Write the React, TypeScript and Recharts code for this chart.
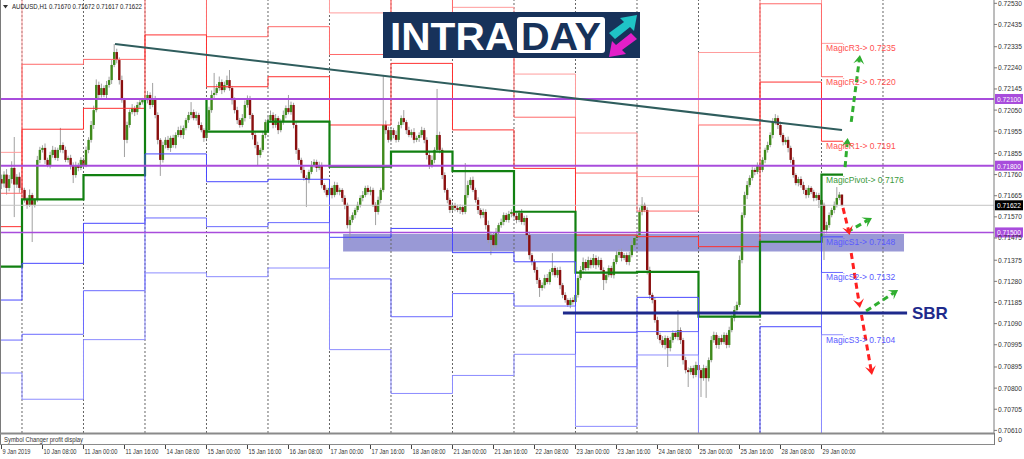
import React from "react";
import { ComposedChart, Bar, Line, XAxis, YAxis, ReferenceLine, ReferenceArea, ReferenceDot } from "recharts";

// H1 bars, index 0 = 10 Jan 00:00, 24 bars per trading day. prices in 1e-5
const firstBar = -8;
const firstOpen = 71740;
const closes = [
  71720, 71760, 71700, 71740, 71790, 71715, 71750, 71700,
  71691, 71646, 71624, 71668, 71624, 71646, 71826, 71871, 71880, 71826, 71803, 71848, 71871, 71835, 71871, 71893, 71871, 71826, 71835, 71803, 71758, 71803, 71790, 71826,
  71803, 71871, 71916, 71983, 72050, 72163, 72118, 72149, 72118, 72163, 72185, 72253, 72311, 72275, 72185, 72095, 71916, 71983, 72041, 72059, 72041, 72073, 72085, 72095,
  72095, 72118, 72073, 72104, 72028, 71916, 71826, 71893, 71916, 71880, 71925, 71893, 71938, 71960, 71938, 71969, 72005, 72028, 72041, 72014, 72028, 71983, 71960, 71925,
  71960, 72050, 72118, 72127, 72149, 72176, 72140, 72163, 72185, 72149, 72095, 72050, 72005, 71983, 72014, 72073, 72104, 72028, 71938, 71893, 71848, 71871, 71938, 71996,
  72005, 72028, 71983, 72014, 71960, 71996, 72028, 72059, 72041, 72073, 71983, 71871, 71826, 71781, 71745, 71736, 71772, 71803, 71817, 71790, 71803, 71713, 71691, 71668,
  71700, 71668, 71713, 71682, 71691, 71655, 71624, 71533, 71556, 71578, 71601, 71624, 71655, 71668, 71700, 71682, 71691, 71624, 71592, 71646, 71691, 71983, 71960, 71916,
  71960, 71938, 71916, 71983, 72014, 71996, 71960, 71938, 71951, 71916, 71925, 71938, 71960, 71916, 71848, 71803, 71826, 71871, 71938, 71871, 71758, 71691, 71646, 71601,
  71623, 71610, 71601, 71614, 71592, 71668, 71713, 71736, 71691, 71646, 71601, 71578, 71592, 71533, 71466, 71488, 71443, 71502, 71533, 71547, 71578, 71556, 71583, 71592,
  71574, 71556, 71587, 71547, 71565, 71488, 71398, 71367, 71331, 71286, 71250, 71263, 71295, 71277, 71322, 71340, 71308, 71331, 71263, 71219, 71196, 71174, 71196, 71187,
  71219, 71295, 71331, 71367, 71340, 71376, 71353, 71385, 71353, 71376, 71331, 71286, 71308, 71340, 71308, 71367, 71398, 71412, 71385, 71398, 71367, 71398, 71443, 71475,
  71488, 71592, 71624, 71601, 71331, 71219, 71196, 71106, 71039, 71016, 70994, 71025, 70980, 71016, 71048, 71030, 71061, 71016, 70926, 70881, 70872, 70890, 70859, 70904,
  70881, 70845, 70890, 70845, 70926, 71016, 71039, 70994, 71025, 71007, 71039, 70994, 71061, 71115, 71151, 71174, 71376, 71578, 71668, 71713, 71745, 71781, 71772, 71803,
  71781, 71826, 71871, 71893, 71938, 71996, 72014, 71983, 71938, 71906, 71916, 71880, 71826, 71758, 71722, 71740, 71713, 71691, 71668, 71700, 71682, 71655, 71668, 71646,
  71624, 71511, 71533, 71578, 71601, 71624, 71655, 71670, 71622,
];
const upWick = [
  20, 15, 25, 18, 30, 139, 12, 20,
  15, 10, 12, 25, 10, 8, 18, 14, 12, 20, 10, 15, 18, 12, 10, 77, 12, 15, 10, 14, 12, 15, 10, 12,
  10, 15, 12, 18, 20, 25, 15, 20, 12, 18, 15, 22, 36, 15, 12, 20, 10, 15, 12, 18, 10, 14, 12, 10,
  15, 18, 12, 68, 10, 12, 8, 15, 12, 18, 10, 14, 12, 15, 20, 12, 10, 14, 45, 12, 15, 10, 12, 8,
  10, 15, 20, 90, 18, 25, 12, 15, 20, 45, 10, 12, 15, 10, 18, 20, 12, 10, 8, 12, 15, 10, 18, 12,
  15, 20, 12, 18, 10, 15, 20, 12, 59, 15, 10, 12, 8, 10, 15, 12, 10, 18, 12, 10, 15, 12, 8, 10,
  12, 10, 15, 12, 10, 8, 12, 10, 15, 12, 10, 14, 12, 18, 10, 12, 15, 10, 12, 15, 10, 225, 20, 15,
  15, 10, 20, 15, 12, 36, 10, 15, 12, 18, 10, 12, 15, 10, 12, 15, 20, 12, 207, 15, 10, 12, 8, 10,
  12, 10, 15, 12, 10, 144, 20, 12, 15, 10, 12, 8, 15, 12, 20, 15, 12, 18, 10, 15, 12, 10, 14, 12,
  10, 15, 12, 18, 10, 12, 15, 10, 12, 14, 10, 12, 15, 18, 12, 67, 10, 12, 15, 10, 12, 8, 10, 12,
  15, 12, 18, 20, 12, 15, 10, 18, 12, 15, 10, 12, 15, 12, 10, 14, 18, 12, 15, 10, 12, 15, 18, 12,
  15, 20, 35, 10, 12, 15, 10, 12, 15, 10, 18, 12, 10, 15, 12, 10, 90, 12, 10, 15, 12, 10, 12, 15,
  12, 10, 15, 10, 12, 18, 15, 12, 10, 15, 12, 10, 15, 12, 18, 15, 20, 12, 15, 18, 12, 15, 10, 12,
  15, 12, 10, 15, 12, 18, 18, 12, 15, 10, 12, 15, 10, 12, 8, 10, 12, 15, 10, 12, 8, 10, 12, 10,
  12, 10, 15, 12, 10, 15, 49, 12, 2,
];
const downWick = [
  25, 18, 30, 15, 20, 146, 15, 22,
  15, 12, 18, 10, 167, 12, 10, 15, 12, 18, 10, 15, 12, 10, 14, 12, 15, 10, 12, 20, 36, 12, 15, 10,
  12, 10, 15, 12, 18, 10, 15, 12, 10, 15, 12, 18, 10, 15, 20, 12, 77, 15, 12, 10, 18, 12, 15, 10,
  12, 15, 18, 10, 15, 20, 72, 12, 15, 10, 18, 12, 15, 10, 12, 18, 10, 12, 15, 10, 12, 15, 10, 18,
  15, 10, 12, 15, 10, 12, 18, 10, 15, 12, 20, 15, 18, 12, 10, 15, 12, 18, 20, 15, 45, 12, 10, 15,
  12, 10, 15, 12, 18, 10, 12, 15, 10, 12, 15, 18, 20, 15, 12, 122, 15, 10, 12, 18, 10, 15, 12, 10,
  12, 15, 10, 12, 15, 18, 20, 15, 67, 12, 15, 10, 12, 15, 10, 12, 15, 10, 59, 12, 15, 10, 18, 12,
  10, 15, 12, 10, 15, 12, 18, 10, 12, 15, 10, 18, 12, 15, 20, 18, 12, 15, 10, 15, 18, 12, 15, 14,
  12, 15, 10, 18, 12, 10, 12, 15, 10, 12, 18, 15, 12, 20, 15, 68, 12, 15, 10, 12, 15, 10, 12, 15,
  12, 15, 10, 12, 15, 18, 20, 15, 12, 18, 40, 12, 15, 10, 12, 15, 10, 12, 18, 15, 12, 9, 15, 12,
  15, 12, 10, 15, 12, 10, 15, 12, 18, 10, 12, 45, 15, 10, 12, 15, 10, 12, 15, 10, 12, 15, 10, 12,
  10, 12, 15, 10, 20, 18, 15, 12, 18, 15, 12, 20, 85, 15, 12, 10, 15, 18, 20, 15, 67, 12, 15, 10,
  15, 85, 12, 89, 15, 10, 12, 15, 18, 12, 10, 15, 12, 10, 15, 12, 10, 15, 12, 18, 10, 12, 15, 10,
  12, 10, 15, 12, 10, 15, 12, 18, 10, 15, 12, 20, 15, 12, 10, 15, 12, 18, 15, 12, 10, 15, 12, 36,
  12, 135, 15, 12, 10, 15, 12, 10, 5,
];

// daily pivot levels (9 Jan .. 29 Jan), start bar of each day
const dayStart = [-9, 0, 24, 48, 72, 96, 120, 144, 168, 192, 216, 240, 264, 288, 312];
const lastBar = 320.4;
const r3 = [71860, 72571, 72578, 72815, 72581, 72620, 72487, 72999, 72512, 72212, 71947, 71751, 72309, 72700, 72350];
const r2 = [71676, 72256, 72278, 72635, 72380, 72425, 72300, 72603, 72328, 72018, 71767, 71596, 71983, 72528, 72200];
const r1 = [71526, 71964, 72058, 72388, 72155, 72200, 71983, 72260, 71961, 71788, 71488, 71481, 71436, 72176, 71910];
const pv = [71346, 71649, 71758, 72100, 71953, 71998, 71796, 71863, 71776, 71593, 71319, 71323, 71121, 71458, 71760];
const s1 = [71196, 71361, 71541, 71853, 71728, 71739, 71478, 71518, 71409, 71368, 71051, 71208, 70585, 71076, 71480];
const s2 = [71016, 71042, 71238, 71565, 71526, 71544, 71291, 71121, 71225, 71169, 70896, 71054, 70400, 70387, 71320];
const s3 = [70868, 70750, 71018, 71318, 71301, 71340, 70973, 70776, 70857, 70952, 70628, 70949, 70200, 70100, 71040];

const levelNames = ["MagicR3", "MagicR2", "MagicR1", "MagicPivot", "MagicS1", "MagicS2", "MagicS3"];
const levelValues = [0.7235, 0.722, 0.7191, 0.7176, 0.7148, 0.7132, 0.7104];
const levelColors = ["#ff5050", "#ff5050", "#ff5050", "#3c9a3c", "#5a5aff", "#5a5aff", "#5a5aff"];

const priceTicks = [0.7253, 0.72435, 0.72335, 0.7224, 0.72145, 0.7205, 0.71955, 0.71855, 0.7176, 0.71665, 0.7157,
  0.71475, 0.71375, 0.7128, 0.71185, 0.7109, 0.70995, 0.70895, 0.708, 0.70705, 0.7061];
const timeTicks = [-8, 8, 24, 40, 56, 72, 88, 104, 120, 136, 152, 168, 184, 200, 216, 232, 248, 264, 280, 296, 312];
const timeLabels = ["9 Jan 2019", "10 Jan 08:00", "11 Jan 00:00", "11 Jan 16:00", "14 Jan 08:00", "15 Jan 00:00",
  "15 Jan 16:00", "16 Jan 08:00", "17 Jan 00:00", "17 Jan 16:00", "18 Jan 08:00", "21 Jan 00:00", "21 Jan 16:00",
  "22 Jan 08:00", "23 Jan 00:00", "23 Jan 16:00", "24 Jan 08:00", "25 Jan 00:00", "25 Jan 16:00", "28 Jan 08:00", "29 Jan 00:00"];
const separators = [0, 24, 48, 72, 96, 120, 144, 168, 192, 216, 240, 264, 288, 312, 336];
const keyLevels = [0.721, 0.718, 0.715];
const lastPrice = 0.71622;

// drawn objects
const trendStart = { i: 36.3, p: 0.72347 };
const trendEnd = { i: 320, p: 0.7196 };
const zoneI = [125.3, 344.2];
const zoneP = [0.71414, 0.71493];
const sbrI = [211.1, 345.4];
const sbrPrice = 0.71138;
const greenArrows = [
  [321.2, 0.71794, 322.2, 0.71925],
  [323.6, 0.71997, 327.0, 0.72298],
  [322.0, 0.71502, 331.7, 0.71565],
  [329.4, 0.71147, 341.9, 0.71241],
];
const redArrows = [
  [320.4, 0.7161, 323.0, 0.71488],
  [323.6, 0.71407, 327.0, 0.7116],
  [327.6, 0.71129, 331.7, 0.70859],
];

const X_DOMAIN = [-8.195, 379.32];
const Y_DOMAIN = [0.705982, 0.72545];
const FONT = "'Liberation Sans', Arial, sans-serif";

const candles = closes.map((c, k) => {
  const o = k === 0 ? firstOpen : closes[k - 1];
  const h = Math.max(o, c) + upWick[k];
  const l = Math.min(o, c) - downWick[k];
  return { i: firstBar + k, o: o / 1e5, c: c / 1e5, h: h / 1e5, l: l / 1e5, range: [l / 1e5, h / 1e5] };
});

const pivotRows = [...dayStart, lastBar].map((i, d) => {
  const k = Math.min(d, dayStart.length - 1);
  return { i, r3: r3[k] / 1e5, r2: r2[k] / 1e5, r1: r1[k] / 1e5, pv: pv[k] / 1e5, s1: s1[k] / 1e5, s2: s2[k] / 1e5, s3: s3[k] / 1e5 };
});

const Candle = (p: any) => {
  const { x, y, width, height, payload } = p;
  const { o, c, h, l } = payload;
  const k = height / (h - l);
  const cx = x + width / 2;
  const top = y + (h - Math.max(o, c)) * k;
  const bot = y + (h - Math.min(o, c)) * k;
  return (
    <g>
      <line x1={cx} x2={cx} y1={y} y2={y + height} stroke="#a0a0a0" strokeWidth={1} />
      <rect x={cx - 1.2} y={top} width={2.4} height={Math.max(bot - top, 0.8)} fill={c >= o ? "#3f8a1c" : "#8a0f0f"} />
    </g>
  );
};

const PriceTick = (p: any) => (
  <text x={p.x} y={p.y + 2.5} fontSize={7.5} fontFamily={FONT} fill="#333" textLength={24} lengthAdjust="spacingAndGlyphs">
    {p.payload.value.toFixed(5)}
  </text>
);

const TimeTick = (p: any) => {
  const label = timeLabels[timeTicks.indexOf(p.payload.value)] || "";
  return (
    <g>
      <line x1={p.x} x2={p.x} y1={445} y2={449} stroke="#444" />
      <text x={p.x + 1} y={453.5} fontSize={7.5} fontFamily={FONT} fill="#333" textLength={label.length > 10 ? 33 : 28} lengthAdjust="spacingAndGlyphs">
        {label}
      </text>
    </g>
  );
};

const PriceTag = ({ viewBox, text, bg }: any) => (
  <g>
    <rect x={viewBox.x + viewBox.width + 1} y={viewBox.y - 5} width={28} height={10} fill={bg} />
    <text x={viewBox.x + viewBox.width + 3} y={viewBox.y + 3} fontSize={7.5} fontFamily={FONT} fill="#fff" textLength={24} lengthAdjust="spacingAndGlyphs">
      {text}
    </text>
  </g>
);

const arrowShape = (color: string) => (p: any) => {
  const { x1, y1, x2, y2 } = p;
  const a = Math.atan2(y2 - y1, x2 - x1);
  const bx = x2 - 9 * Math.cos(a);
  const by = y2 - 9 * Math.sin(a);
  const nx = -Math.sin(a) * 5.5;
  const ny = Math.cos(a) * 5.5;
  const mx = x2 - 5 * Math.cos(a);
  const my = y2 - 5 * Math.sin(a);
  return (
    <g>
      <line x1={x1} y1={y1} x2={mx} y2={my} stroke={color} strokeWidth={3} strokeDasharray="6 4" />
      <polygon points={`${x2},${y2} ${bx + nx},${by + ny} ${mx},${my} ${bx - nx},${by - ny}`} fill={color} />
    </g>
  );
};

const pivotStyle: [string, string, number][] = [
  ["r3", "#ff9c9c", 1], ["r2", "#ff6a6a", 1], ["r1", "#ff3030", 1], ["pv", "#118011", 2.2],
  ["s1", "#4848ff", 1], ["s2", "#6a6aff", 1], ["s3", "#8c8cff", 1],
];

export default function App() {
  return (
    <div style={{ position: "absolute", left: 0, top: 0, width: 1024, height: 459, background: "#fff", overflow: "hidden" }}>
      <ComposedChart width={1024} height={459} data={candles} margin={{ top: 0, right: 0, left: 1, bottom: 0 }}>
        <XAxis dataKey="i" type="number" domain={X_DOMAIN} allowDataOverflow ticks={timeTicks} interval={0}
          height={26} axisLine={false} tickLine={false} tick={<TimeTick />} />
        <YAxis orientation="right" width={30} domain={Y_DOMAIN} allowDataOverflow ticks={priceTicks} interval={0}
          tickSize={3} tickMargin={1} axisLine={{ stroke: "#7a7a7a" }} tickLine={{ stroke: "#7a7a7a" }} tick={<PriceTick />} />
        {separators.map((s) => (
          <ReferenceLine key={"sep" + s} x={s} stroke="#666" strokeDasharray="2 2" />
        ))}
        {pivotStyle.map(([key, color, w]) => (
          <Line key={key} data={pivotRows} dataKey={key} type="stepAfter" stroke={color} strokeWidth={w}
            dot={false} activeDot={false} isAnimationActive={false} />
        ))}
        <ReferenceLine y={lastPrice} stroke="#c4c4c4" label={<PriceTag text="0.71622" bg="#000" />} />
        {keyLevels.map((v, n) => (
          <ReferenceLine key={"kl" + v} y={v} stroke="#a84cdc" strokeWidth={n === 2 ? 1.5 : 2}
            label={<PriceTag text={v.toFixed(5)} bg="#a84cdc" />} />
        ))}
        <Bar dataKey="range" barSize={3} shape={<Candle />} isAnimationActive={false} />
        <ReferenceLine segment={[{ x: trendStart.i, y: trendStart.p }, { x: trendEnd.i, y: trendEnd.p }]}
          stroke="#2f5d5d" strokeWidth={2} />
        <ReferenceArea x1={zoneI[0]} x2={zoneI[1]} y1={zoneP[0]} y2={zoneP[1]} fill="#4646b4" fillOpacity={0.55} stroke="none" />
        <ReferenceLine segment={[{ x: sbrI[0], y: sbrPrice }, { x: sbrI[1], y: sbrPrice }]} stroke="#1e2a8c" strokeWidth={3} />
        <ReferenceDot x={347.3} y={sbrPrice} r={0}
          shape={(p: any) => (
            <text x={p.cx} y={p.cy + 6} fontSize={17} fontWeight="bold" fontFamily={FONT} fill="#1e2a8c">SBR</text>
          )} />
        {levelNames.map((name, n) => (
          <ReferenceDot key={name} x={313.8} y={levelValues[n]} r={0}
            shape={(p: any) => (
              <text x={p.cx} y={p.cy + 8} fontSize={8.5} fontFamily={FONT} fill={levelColors[n]}>
                {`${name}-> ${levelValues[n].toFixed(4)}`}
              </text>
            )} />
        ))}
        {greenArrows.map((a, n) => (
          <ReferenceLine key={"ga" + n} segment={[{ x: a[0], y: a[1] }, { x: a[2], y: a[3] }]} shape={arrowShape("#2fae2f")} />
        ))}
        {redArrows.map((a, n) => (
          <ReferenceLine key={"ra" + n} segment={[{ x: a[0], y: a[1] }, { x: a[2], y: a[3] }]} shape={arrowShape("#ff2020")} />
        ))}
      </ComposedChart>

      {/* indicator sub-window */}
      <div style={{ position: "absolute", left: 0, top: 435, width: 1024, height: 10 }}>
        <ComposedChart width={1024} height={10} data={[{ i: 0, v: 0 }]} margin={{ top: 0, right: 30, left: 1, bottom: 0 }}>
          <XAxis dataKey="i" type="number" domain={X_DOMAIN} allowDataOverflow hide />
          <YAxis domain={[0, 1]} hide />
          {separators.map((s) => (
            <ReferenceLine key={"sub" + s} x={s} stroke="#666" strokeDasharray="2 2" />
          ))}
        </ComposedChart>
      </div>
      <svg width={1024} height={459} style={{ position: "absolute", left: 0, top: 0, pointerEvents: "none" }}>
        <line x1={0.5} y1={0} x2={0.5} y2={445} stroke="#7a7a7a" />
        <line x1={0} y1={433.5} x2={994} y2={433.5} stroke="#8a8a8a" strokeWidth={2} />
        <line x1={0} y1={444.5} x2={994} y2={444.5} stroke="#8a8a8a" />
        <line x1={994.5} y1={433} x2={994.5} y2={445} stroke="#7a7a7a" />
        <text x={4} y={441.5} fontSize={7.5} fontFamily={FONT} fill="#333" textLength={79} lengthAdjust="spacingAndGlyphs">Symbol Changer profit display</text>
        <text x={998} y={442} fontSize={7.5} fontFamily={FONT} fill="#333">0</text>
        <polygon points="3,5 8,5 5.5,8.5" fill="#333" />
        <text x={12} y={9} fontSize={7.5} fontFamily={FONT} fill="#222" textLength={130} lengthAdjust="spacingAndGlyphs">AUDUSD,H1  0.71670 0.71672 0.71617 0.71622</text>
        {/* logo */}
        <rect x={383} y={12} width={257} height={46} fill="#17325a" />
        <text x={390} y={50} fontSize={39} fontWeight="bold" fontFamily={FONT} fill="#fff" textLength={124} lengthAdjust="spacingAndGlyphs">INTRA</text>
        <rect x={517} y={17} width={88} height={36} rx={3} fill="#fff" />
        <text x={521} y={50} fontSize={39} fontWeight="bold" fontFamily={FONT} fill="#17325a" textLength={80} lengthAdjust="spacingAndGlyphs">DAY</text>
        <polygon points="609,33 624,22 620,18 637,15 634,31 630,27 615,39" fill="#1fc3c6" />
        <polygon points="637,39 622,50 626,54 609,57 612,41 616,45 631,33" fill="#e21fc8" />
      </svg>
    </div>
  );
}
